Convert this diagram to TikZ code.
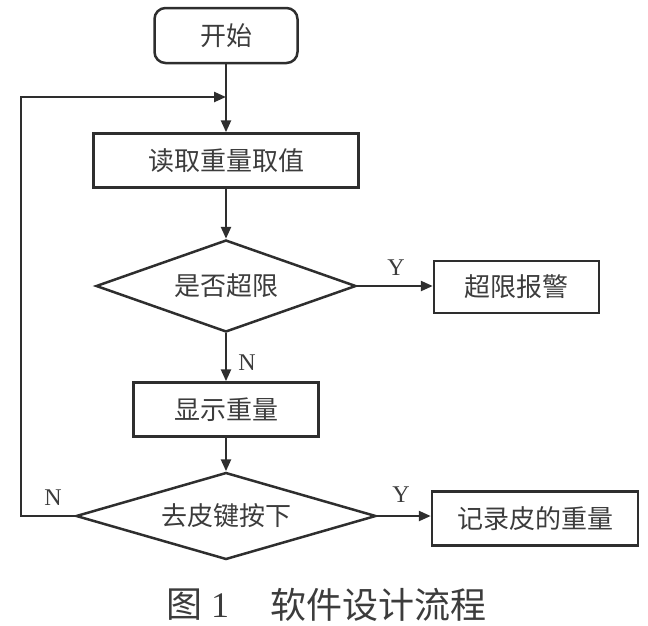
\documentclass[tikz,border=0pt]{standalone}
\usepackage{fontspec}
\setmainfont{Liberation Serif}
\newfontfamily\cjk{Noto Sans CJK SC}
\usetikzlibrary{shapes.geometric,arrows.meta}
\definecolor{ln}{HTML}{2E2E2E}
\definecolor{tx}{HTML}{3C3C3C}
\begin{document}
\begin{tikzpicture}[x=1pt,y=-1pt,
  every node/.style={text=tx},
  base/.style={draw=ln,line width=2.5pt,inner sep=0pt,font=\cjk\fontsize{26}{30}\selectfont},
  startbox/.style={base,rounded corners=11pt,minimum width=143pt,minimum height=55pt},
  procbox/.style={base,minimum height=54pt},
  decbox/.style={base,diamond},
  conn/.style={draw=ln,line width=2.4pt,-{Triangle[length=12pt,width=10pt]}},
  lab/.style={font=\fontsize{24}{26}\selectfont,inner sep=0pt}]
\useasboundingbox (0,0) rectangle (648,625);
\node[startbox] (start) at (226,35.5) {开始};
\node[procbox,minimum width=265pt] (read) at (226,160.5) {读取重量取值};
\node[decbox,shape aspect=2.83,minimum width=260pt,minimum height=92pt] (d1) at (226,286) {是否超限};
\node[procbox,minimum width=165pt,minimum height=52pt] (alarm) at (516.5,287) {超限报警};
\node[procbox,minimum width=185pt] (show) at (226,409.5) {显示重量};
\node[decbox,shape aspect=3.45,minimum width=300pt,minimum height=87pt] (d2) at (226,516) {去皮键按下};
\node[procbox,minimum width=206pt] (rec) at (535,518.5) {记录皮的重量};
\coordinate (join) at (226,97);
\coordinate (loopc) at (21,516);
\draw[conn] (start.south) -- (read.north);
\draw[conn] (read.south) -- (d1.north);
\draw[conn] (d1.east) -- (alarm.west |- d1.east);
\draw[conn] (d1.south) -- (show.north);
\draw[conn] (show.south) -- (d2.north);
\draw[conn] (d2.east) -- (rec.west |- d2.east);
\draw[conn] (d2.west) -- (loopc) |- (join);
\node[lab] (y1) at (396,268) {Y};
\node[lab] (n1) at (247,363) {N};
\node[lab] (n2) at (53,498) {N};
\node[lab] (y2) at (401,495) {Y};
\node[anchor=west,inner sep=0pt,font=\fontsize{36}{40}\selectfont] (cap1) at (166,605) {{\cjk 图}\ 1};
\node[anchor=west,inner sep=0pt,font=\cjk\fontsize{36}{40}\selectfont] (cap2) at (270,605) {软件设计流程};
\end{tikzpicture}
\end{document}
